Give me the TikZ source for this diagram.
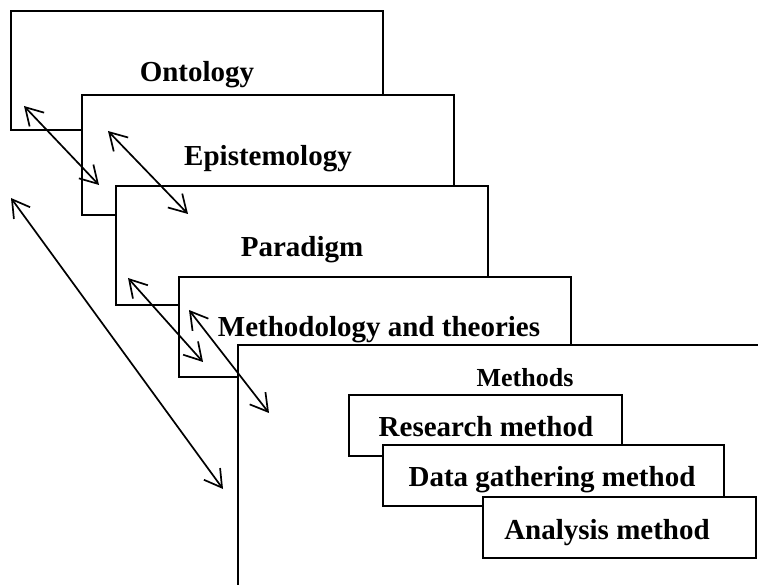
\documentclass[tikz,border=0pt]{standalone}
\usepackage{fontspec}
\setmainfont{Liberation Serif}
\usetikzlibrary{arrows.meta}
\tikzset{
  layer/.style={draw, fill=white, line width=2.3pt, rectangle, inner sep=0pt, outer sep=0pt, anchor=north west},
  lbl/.style={anchor=base, inner sep=0pt, font=\fontsize{29}{34}\selectfont\bfseries},
  smalllbl/.style={anchor=base, inner sep=0pt, font=\fontsize{26}{30}\selectfont\bfseries},
  link/.style={line width=1.7pt, {Straight Barb[length=17pt,width=20pt]}-{Straight Barb[length=17pt,width=20pt]}}
}
\begin{document}
\begin{tikzpicture}[x=1pt,y=-1pt]
\useasboundingbox (0,0) rectangle (758,585);
\clip (0,0) rectangle (758,585);
% layers
\node[layer, minimum width=372pt, minimum height=119pt] (onto) at (11,11) {};
\node[lbl] (ontot) at (197,82) {Ontology};
\node[layer, minimum width=372pt, minimum height=120pt] (epis) at (82,95) {};
\node[lbl] (epist) at (268,166) {Epistemology};
\node[layer, minimum width=372pt, minimum height=119pt] (para) at (116,186) {};
\node[lbl] (parat) at (302,257) {Paradigm};
\node[layer, minimum width=392pt, minimum height=100pt] (meth) at (179,277) {};
\node[lbl] (metht) at (379,337) {Methodology and theories};
\node[layer, minimum width=600pt, minimum height=400pt] (mbox) at (238,345) {};
\node[smalllbl] (mtitle) at (525,387) {Methods};
\node[layer, minimum width=273pt, minimum height=61pt] (res) at (349,395) {};
\node[lbl] (rest) at (486,436) {Research method};
\node[layer, minimum width=341pt, minimum height=61pt] (data) at (383,445) {};
\node[lbl] (datat) at (552,486) {Data gathering method};
\node[layer, minimum width=273pt, minimum height=61pt] (ana) at (483,497) {};
\node[lbl] (anat) at (607,539) {Analysis method};
% arrow ends
\coordinate (a1) at (24,106);
\coordinate (b1) at (99,185);
\coordinate (a2) at (108,131);
\coordinate (b2) at (188,214);
\coordinate (a3) at (11,198);
\coordinate (b3) at (223,489);
\coordinate (a4) at (128,278);
\coordinate (b4) at (203,362);
\coordinate (a5) at (189,310);
\coordinate (b5) at (269,413);
\draw[link] (a1) -- (b1);
\draw[link] (a2) -- (b2);
\draw[link] (a3) -- (b3);
\draw[link] (a4) -- (b4);
\draw[link] (a5) -- (b5);
\end{tikzpicture}
\end{document}
